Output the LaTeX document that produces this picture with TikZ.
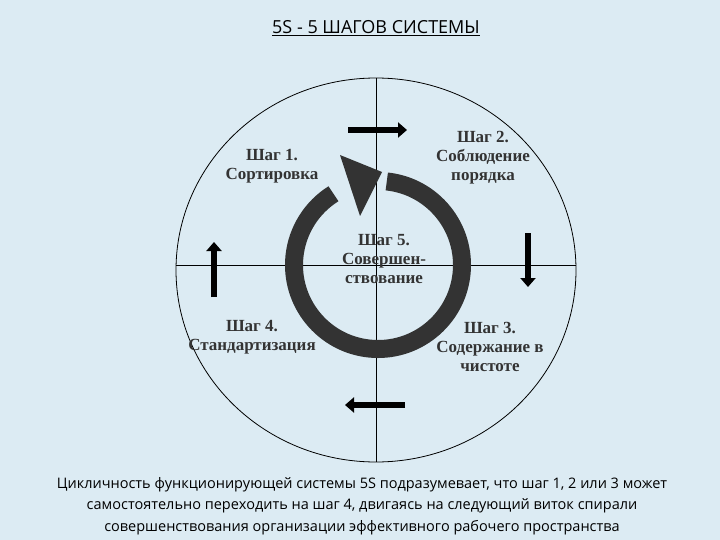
\documentclass[tikz,border=0pt]{standalone}
\usepackage{fontspec}
\setmainfont{Liberation Serif}
\newfontfamily\sans{Open Sans}
\usetikzlibrary{arrows.meta}
\definecolor{bg}{HTML}{DCEBF3}
\definecolor{ink}{HTML}{333333}
\begin{document}
\begin{tikzpicture}[x=1pt,y=-1pt,
  lbl/.style={font=\bfseries\fontsize{17}{19}\selectfont,align=center,text=ink},
  fat/.style={line width=6pt,draw=black,-{Triangle[length=9pt,width=15pt]}},
  captext/.style={font=\sans\fontsize{14.5}{21.5}\selectfont,align=center,text=black}]
\fill[bg] (0,0) rectangle (720,540);
\useasboundingbox (0,0) rectangle (720,540);
\node[font=\sans\fontsize{18}{20}\selectfont] (title) at (376,28) {\underline{5S - 5 ШАГОВ СИСТЕМЫ}};
\draw[black,line width=0.8pt] (376,270) ellipse [x radius=200, y radius=192];
\draw[black,line width=0.6pt] (376,78) -- (376,462);
\draw[black,line width=0.6pt] (176,265) -- (576,265);
% ring
\draw[ink,line width=18pt] (378,265) ++(-84:84) arc[start angle=-84,end angle=238,radius=84];
\fill[ink] (340,155) -- (382,172) -- (360,216) -- cycle;
% arrows
\coordinate (a1) at (348,130); \coordinate (b1) at (407,130);
\coordinate (a2) at (528,233); \coordinate (b2) at (528,287);
\coordinate (a3) at (405,405); \coordinate (b3) at (345,405);
\coordinate (a4) at (214,297); \coordinate (b4) at (214,242);
\draw[fat] (a1)--(b1); \draw[fat] (a2)--(b2); \draw[fat] (a3)--(b3); \draw[fat] (a4)--(b4);
\node[lbl] (s1) at (272,166) {Шаг 1.\\Сортировка};
\node[lbl] (s2) at (483,158) {Шаг 2.\\Соблюдение\\порядка};
\node[lbl] (s3) at (490,347) {Шаг 3.\\Содержание в\\чистоте};
\node[lbl] (s4) at (252,337) {Шаг 4.\\Стандартизация};
\node[lbl] (s5) at (384,259) {Шаг 5.\\Совершен-\\ствование};
\node[captext] (c) at (362,506) {Цикличность функционирующей системы 5S подразумевает, что шаг 1, 2 или 3 может\\самостоятельно переходить на шаг 4, двигаясь на следующий виток спирали\\совершенствования организации эффективного рабочего пространства};
\end{tikzpicture}
\end{document}
